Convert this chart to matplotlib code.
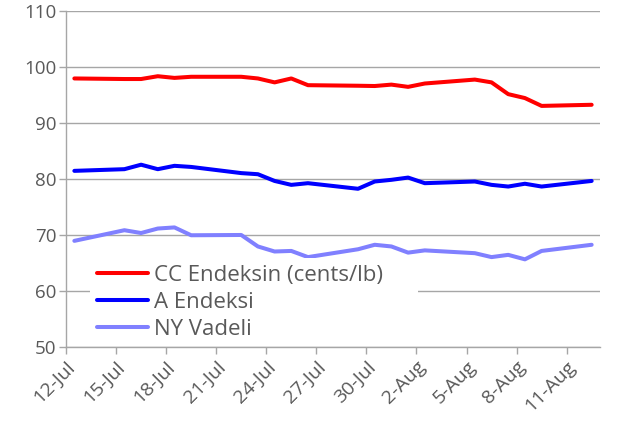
import matplotlib
matplotlib.use("Agg")
import matplotlib.pyplot as plt
import numpy as np

# Trading days, as day offsets from 12-Jul
dates = ["12-Jul", "15-Jul", "16-Jul", "17-Jul", "18-Jul", "19-Jul",
         "22-Jul", "23-Jul", "24-Jul", "25-Jul", "26-Jul",
         "29-Jul", "30-Jul", "31-Jul", "1-Aug", "2-Aug",
         "5-Aug", "6-Aug", "7-Aug", "8-Aug", "9-Aug", "12-Aug"]
day_offset = [0, 3, 4, 5, 6, 7, 10, 11, 12, 13, 14, 17, 18, 19, 20, 21,
              24, 25, 26, 27, 28, 31]

cc_index = [97.9, 97.8, 97.8, 98.3, 98.0, 98.2, 98.2, 97.9, 97.2, 97.9, 96.7,
            96.6, 96.55, 96.8, 96.4, 97.0, 97.7, 97.2, 95.1, 94.4, 93.0, 93.2]
a_index = [81.4, 81.7, 82.5, 81.7, 82.3, 82.1, 81.0, 80.8, 79.6, 78.9, 79.2,
           78.2, 79.5, 79.8, 80.2, 79.2, 79.5, 78.9, 78.6, 79.1, 78.6, 79.6]
ny_futures = [68.9, 70.8, 70.3, 71.1, 71.3, 69.9, 69.95, 67.9, 67.0, 67.1, 66.0,
              67.4, 68.2, 67.9, 66.8, 67.2, 66.7, 66.0, 66.4, 65.6, 67.1, 68.2]

tick_labels = ["12-Jul", "15-Jul", "18-Jul", "21-Jul", "24-Jul", "27-Jul",
               "30-Jul", "2-Aug", "5-Aug", "8-Aug", "11-Aug"]
tick_offsets = [0, 3, 6, 9, 12, 15, 18, 21, 24, 27, 30]

series_names = ["CC Endeksin (cents/lb)", "A Endeksi", "NY Vadeli"]
colors = ["#FF0000", "#0000FF", "#8080FF"]

plt.rcParams['font.family'] = ['Open Sans', 'DejaVu Sans']
text_color = "#595959"
grid_color = "#A6A6A6"

fig = plt.figure(figsize=(6.19, 4.28), dpi=100)
ax = fig.add_axes([66/619, 1-346.7/428, 534/619, 336/428])

x = np.array(day_offset) + 0.5
for vals, name, c in zip([cc_index, a_index, ny_futures], series_names, colors):
    ax.plot(x, vals, color=c, lw=2.9, label=name, solid_capstyle='round',
            solid_joinstyle='round')

ax.set_xlim(0, 32)
ax.set_ylim(50, 110)
ax.set_yticks(range(50, 111, 10))
ax.set_xticks(tick_offsets)
ax.set_xticklabels(tick_labels, rotation=45, ha='right', rotation_mode='anchor')
ax.grid(axis='y', color=grid_color, lw=1)
ax.set_axisbelow(True)
for s in ['top', 'right']:
    ax.spines[s].set_visible(False)
for s in ['left', 'bottom']:
    ax.spines[s].set_color(grid_color)
    ax.spines[s].set_linewidth(1)
ax.tick_params(axis='both', colors=grid_color, labelcolor=text_color,
               labelsize=13.5, length=5, width=1)
ax.tick_params(axis='x', labelsize=14)
ax.tick_params(axis='y', pad=2)
ax.tick_params(axis='x', pad=3)

leg = ax.legend(loc='lower left', bbox_to_anchor=(0.045, 0.001, 0.615, 0.25),
                mode='expand', frameon=True,
                fontsize=16, handlelength=2.3, handletextpad=0.3,
                borderpad=0.3, labelspacing=0.27, borderaxespad=0)
leg.get_frame().set_facecolor('white')
leg.get_frame().set_edgecolor('none')
leg.get_frame().set_alpha(1)
leg.get_frame().set_boxstyle('square', pad=0)
for t in leg.get_texts():
    t.set_color(text_color)

fig.savefig("out.png", dpi=100)
